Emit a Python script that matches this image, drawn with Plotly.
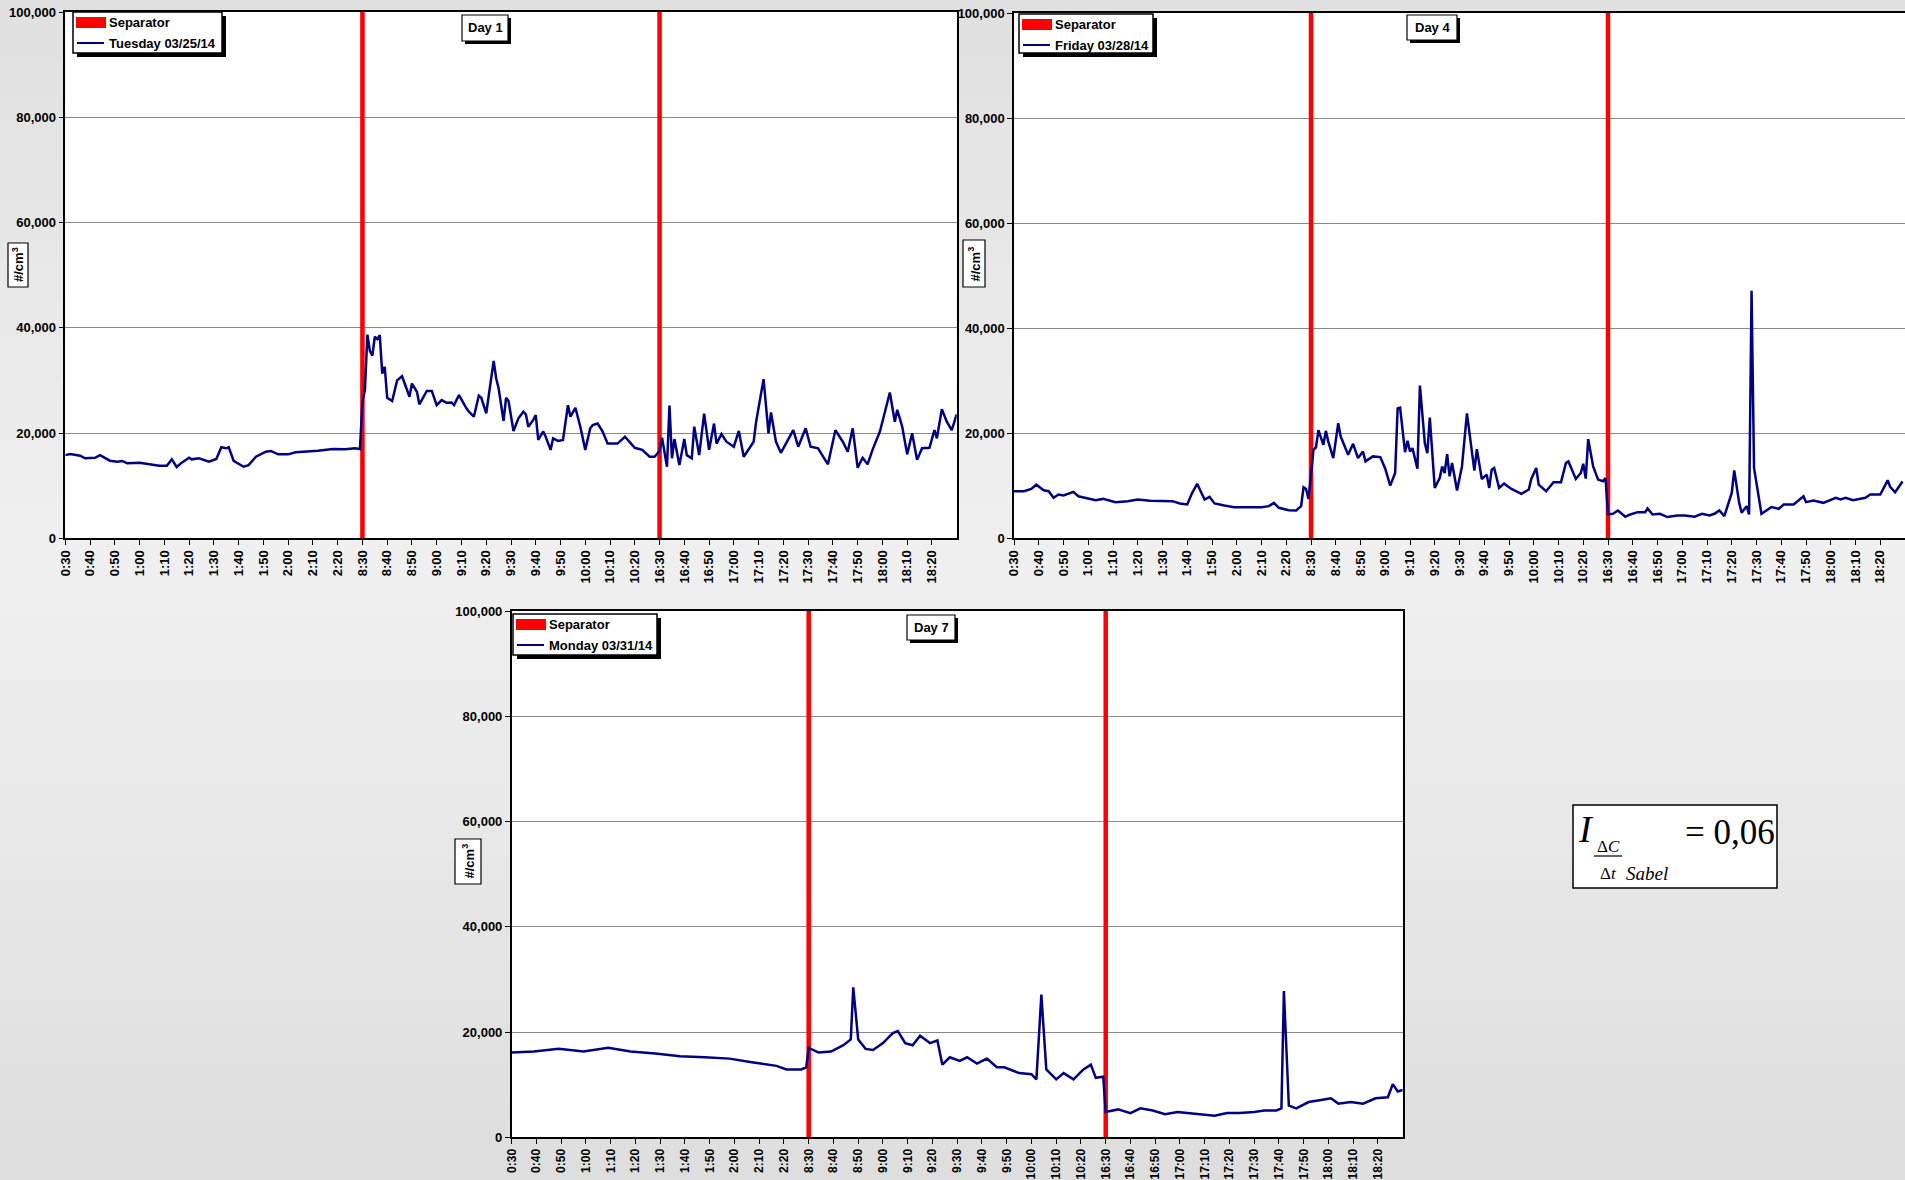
import plotly.graph_objects as go

W, H = 1905, 1180

# ---------------- data ----------------
tick_labels = ["0:30", "0:40", "0:50", "1:00", "1:10", "1:20", "1:30", "1:40", "1:50", "2:00", "2:10", "2:20",
               "8:30", "8:40", "8:50", "9:00", "9:10", "9:20", "9:30", "9:40", "9:50", "10:00", "10:10", "10:20",
               "16:30", "16:40", "16:50", "17:00", "17:10", "17:20", "17:30", "17:40", "17:50", "18:00", "18:10", "18:20"]

separator_minutes = [120, 240]
separator_top = 100000

day1_label = "Tuesday 03/25/14"
day1_minute = [0, 2, 6, 8, 12, 14, 18, 21, 23, 25,
               30, 35, 38, 41, 43, 45, 47, 50, 51, 54,
               58, 61, 63, 65, 66, 68, 72, 74, 77, 81,
               83, 86, 90, 93, 97, 102, 108, 113, 117, 119,
               120, 121, 122, 123, 124, 125, 126, 127, 128, 129,
               130, 132, 134, 136, 139, 140, 142, 143, 146, 148,
               150, 152, 154, 156, 157, 159, 162, 163, 165, 167,
               168, 170, 173, 174, 175, 177, 178, 179, 181, 183,
               185, 186, 187, 189, 190, 191, 193, 194, 196, 197,
               199, 201, 203, 204, 206, 208, 210, 212, 213, 215,
               217, 219, 221, 223, 226, 228, 230, 233, 236, 238,
               240, 241, 243, 244, 245, 246, 248, 250, 251, 253,
               254, 256, 258, 260, 262, 263, 265, 267, 270, 272,
               274, 278, 279, 282, 284, 285, 287, 289, 292, 294,
               296, 299, 301, 304, 308, 311, 314, 316, 318, 320,
               322, 324, 326, 329, 333, 335, 336, 338, 340, 342,
               344, 346, 349, 351, 352, 354, 356, 358, 360]
day1_value = [15800, 16000, 15700, 15200, 15300, 15800, 14750, 14550, 14700, 14250,
              14370, 14050, 13800, 13800, 15000, 13550, 14370, 15300, 15000, 15200,
              14550, 15070, 17300, 17100, 17300, 14700, 13600, 13900, 15500, 16450,
              16600, 15950, 15950, 16330, 16450, 16650, 16950, 16900, 17100, 16950,
              25950, 28200, 38700, 35600, 34700, 38300, 37850, 38600, 31300, 32600,
              26700, 26100, 30000, 30800, 26900, 29400, 27850, 25450, 28000, 28000,
              25300, 26250, 25750, 25800, 25300, 27200, 24700, 24050, 23100, 27100,
              26700, 23750, 33700, 30400, 28500, 22300, 26700, 26100, 20400, 22800,
              24050, 23550, 21200, 22500, 23400, 18700, 20300, 19300, 16800, 19000,
              18500, 18700, 25300, 23100, 24800, 21200, 16800, 20900, 21500, 21800,
              20300, 18000, 18000, 18000, 19300, 18200, 17200, 16800, 15500, 15500,
              16600, 19100, 13600, 25200, 15200, 18850, 13900, 18850, 15800, 15200,
              21200, 15800, 23700, 16800, 21800, 18000, 19800, 18350, 17400, 20400,
              15500, 18350, 22150, 30250, 19950, 23900, 18350, 16250, 18700, 20550,
              17400, 20900, 17400, 17100, 14050, 20550, 18350, 16450, 20900, 13400,
              15300, 14050, 16800, 20300, 27700, 22150, 24400, 21200, 15950, 19950,
              14900, 17100, 17200, 20550, 19000, 24550, 22150, 20550, 23550]

day4_label = "Friday 03/28/14"
day4_minute = [0, 4, 7, 9, 12, 14, 16, 18, 20, 24,
               26, 30, 33, 36, 41, 46, 50, 55, 59, 64,
               67, 70, 72, 74, 75, 77, 79, 81, 85, 89,
               95, 100, 103, 105, 107, 111, 114, 116, 117, 118,
               119, 121, 122, 123, 125, 126, 127, 129, 131, 132,
               135, 137, 139, 141, 142, 145, 148, 150, 152, 154,
               155, 156, 158, 159, 160, 161, 163, 164, 166, 167,
               168, 170, 172, 173, 174, 175, 176, 177, 179, 181,
               183, 186, 187, 189, 191, 192, 193, 194, 196, 198,
               201, 205, 208, 209, 211, 212, 215, 218, 221, 223,
               224, 226, 227, 229, 230, 231, 232, 234, 236, 238,
               239, 240, 242, 244, 247, 249, 252, 255, 256, 258,
               261, 264, 268, 271, 275, 278, 281, 283, 285, 287,
               290, 291, 293, 294, 296, 297, 298, 299, 300, 302,
               304, 306, 309, 311, 315, 319, 320, 323, 327, 330,
               332, 334, 336, 339, 342, 344, 346, 350, 353, 354,
               356, 358, 359]
day4_value = [8960, 8960, 9400, 10200, 9150, 8960, 7700, 8330, 8140, 8830,
              8000, 7570, 7260, 7500, 6880, 7070, 7380, 7130, 7070, 7070,
              6630, 6440, 8650, 10350, 9400, 7380, 7890, 6630, 6250, 5930,
              5930, 5930, 6120, 6750, 5800, 5360, 5300, 6120, 9720, 9400,
              7500, 16850, 17300, 20600, 17800, 20450, 18400, 15270, 21900, 19370,
              15900, 17980, 15270, 16530, 14640, 15590, 15460, 13250, 10030, 12430,
              24730, 24860, 16400, 18550, 16530, 17160, 13250, 29090, 18110, 16220,
              22970, 9590, 11480, 13690, 12430, 16030, 11800, 14320, 9090, 13690,
              23790, 12870, 16970, 11290, 12120, 9590, 13060, 13380, 9590, 10410,
              9400, 8460, 9280, 11290, 13380, 10220, 8960, 10660, 10660, 14320,
              14640, 12430, 11290, 12430, 14200, 11360, 18870, 13690, 11170, 10850,
              11480, 4540, 4670, 5300, 4100, 4540, 4980, 4980, 5680, 4540,
              4670, 4040, 4350, 4350, 4100, 4670, 4350, 4670, 5300, 4230,
              8640, 12940, 6750, 4860, 6120, 4540, 47140, 13380, 10540, 4670,
              5300, 5930, 5620, 6440, 6440, 8010, 6880, 7190, 6750, 7260,
              7700, 7380, 7700, 7260, 7500, 7700, 8330, 8330, 11040, 9780,
              8770, 10300, 10800]

day7_label = "Monday 03/31/14"
day7_minute = [0, 9, 19, 29, 39, 48, 58, 68, 78, 88,
               97, 107, 111, 117, 119, 120, 124, 129, 134, 137,
               138, 140, 143, 146, 150, 154, 156, 159, 162, 165,
               169, 172, 174, 177, 181, 184, 188, 192, 196, 199,
               205, 210, 212, 214, 216, 220, 223, 227, 231, 234,
               236, 239, 240, 245, 250, 254, 259, 264, 269, 274,
               279, 284, 289, 294, 300, 304, 309, 311, 312, 314,
               317, 322, 327, 331, 334, 339, 344, 349, 354, 356,
               358, 360]
day7_value = [16100, 16300, 16800, 16300, 17000, 16300, 15900, 15400, 15200, 14950,
              14260, 13570, 12900, 12900, 13300, 17000, 16100, 16300, 17500, 18600,
              28500, 18600, 16800, 16600, 17900, 19800, 20200, 17900, 17500, 19300,
              17900, 18400, 13800, 15200, 14500, 15200, 14000, 14950, 13300, 13300,
              12200, 12000, 11000, 27100, 12900, 11000, 12200, 11000, 12900, 13800,
              11300, 11500, 4800, 5300, 4600, 5500, 5100, 4400, 4800, 4600,
              4400, 4100, 4600, 4600, 4800, 5100, 5100, 5500, 27800, 6000,
              5500, 6700, 7100, 7400, 6400, 6700, 6400, 7400, 7600, 10100,
              8700, 9000]

formula_value = "0,06"


# ---------------- helpers ----------------
def px(x):
    return x / W


def py(y):
    return 1 - y / H


FONT = "Arial, 'Liberation Sans', sans-serif"
SERIF = "'Times New Roman', 'Liberation Serif', serif"
NAVY = "#000080"
RED = "#ff0000"
TICK_PX = 24.78  # pixels per 10-minute category step in the reference

panels = [
    dict(label=day1_label, day="Day 1", xs=day1_minute, ys=day1_value, ax="", box=(65.3, 12, 956.7, 538.3),
         legend=(73, 12, 222, 53), daybox=(462, 15, 508, 41), ytitle=(8, 243, 28, 287), xfont=13),
    dict(label=day4_label, day="Day 4", xs=day4_minute, ys=day4_value, ax="2", box=(1014, 13, 1905, 538.3),
         legend=(1019, 14, 1153, 53), daybox=(1407, 15, 1457, 40), ytitle=(963, 240, 985, 287), xfont=13),
    dict(label=day7_label, day="Day 7", xs=day7_minute, ys=day7_value, ax="3", box=(511.7, 611, 1402.7, 1137.3),
         legend=(513, 614, 657, 655), daybox=(907, 615, 955, 640), ytitle=(455, 839, 481, 884), xfont=12),
]

fig = go.Figure()
shapes = []
annotations = []

# background gradient bands
band = 20
for y0 in range(0, H, band):
    c = int(round(240 - 0.029 * abs(y0 + band / 2 - 560)))
    col = f"rgb({c},{c},{c})"
    shapes.append(dict(type="rect", xref="paper", yref="paper", x0=0, x1=1,
                       y0=max(py(y0 + band), 0), y1=min(py(y0), 1),
                       fillcolor=col, line=dict(width=0), layer="below"))

for p in panels:
    x0, y0, x1, y1 = p["box"]
    ax = p["ax"]
    xa = "x" + ax
    ya = "y" + ax
    right = min(x1, W)
    xmax = (right - x0) / TICK_PX * 10
    if abs(xmax - 360) < 1.5:
        xmax = 360
    # white plot area
    shapes.append(dict(type="rect", xref="paper", yref="paper", x0=px(x0), x1=px(right), y0=py(y1), y1=py(y0),
                       fillcolor="white", line=dict(width=0), layer="below"))

    sep_x, sep_y = [], []
    for m in separator_minutes:
        sep_x += [m, m, None]
        sep_y += [0, separator_top, None]
    fig.add_trace(go.Scatter(x=sep_x, y=sep_y, mode="lines", name="Separator",
                             line=dict(color=RED, width=4.5), xaxis=xa, yaxis=ya, showlegend=False,
                             hoverinfo="skip"))
    fig.add_trace(go.Scatter(x=p["xs"], y=p["ys"], mode="lines", name=p["label"],
                             line=dict(color=NAVY, width=2.5), xaxis=xa, yaxis=ya, showlegend=False))

    xkey = "xaxis" + ax
    ykey = "yaxis" + ax
    tickvals = [10 * i for i in range(len(tick_labels))]
    fig.update_layout(**{
        xkey: dict(domain=[px(x0), px(right)], range=[0, xmax], anchor=ya, automargin=False,
                   tickvals=tickvals, ticktext=tick_labels, tickangle=-90,
                   ticks="outside", ticklen=5, tickwidth=1, tickcolor="black",
                   showline=True, linecolor="black", linewidth=1.5, mirror=True,
                   showgrid=False, zeroline=False,
                   tickfont=dict(family=FONT, size=p["xfont"], color="black", weight="bold")),
        ykey: dict(domain=[py(y1), py(y0)], range=[0, 100000], anchor=xa, automargin=False,
                   dtick=20000, tick0=0, tickformat=",d",
                   ticks="outside", ticklen=5, tickwidth=1, tickcolor="black",
                   showline=True, linecolor="black", linewidth=1.5, mirror=True,
                   showgrid=True, gridcolor="#8a8a8a", gridwidth=1, zeroline=False,
                   tickfont=dict(family=FONT, size=13, color="black", weight="bold")),
    })

    # legend (drawn box with shadow)
    lx0, ly0, lx1, ly1 = p["legend"]
    shapes.append(dict(type="rect", xref="paper", yref="paper", x0=px(lx0 + 4), x1=px(lx1 + 4),
                       y0=py(ly1 + 4), y1=py(ly0 + 4), fillcolor="black", line=dict(width=0)))
    shapes.append(dict(type="rect", xref="paper", yref="paper", x0=px(lx0), x1=px(lx1),
                       y0=py(ly1), y1=py(ly0), fillcolor="white", line=dict(color="black", width=1.5)))
    row1 = ly0 + 10.5
    row2 = ly0 + 31
    shapes.append(dict(type="rect", xref="paper", yref="paper", x0=px(lx0 + 3), x1=px(lx0 + 33),
                       y0=py(row1 + 5.5), y1=py(row1 - 5.5), fillcolor=RED, line=dict(width=0)))
    shapes.append(dict(type="line", xref="paper", yref="paper", x0=px(lx0 + 4), x1=px(lx0 + 31),
                       y0=py(row2), y1=py(row2), line=dict(color=NAVY, width=2)))
    annotations.append(dict(xref="paper", yref="paper", x=px(lx0 + 34), y=py(row1), text="Separator",
                            showarrow=False, xanchor="left", yanchor="middle",
                            font=dict(family=FONT, size=13, color="black", weight="bold")))
    annotations.append(dict(xref="paper", yref="paper", x=px(lx0 + 34), y=py(row2), text=p["label"],
                            showarrow=False, xanchor="left", yanchor="middle",
                            font=dict(family=FONT, size=13, color="black", weight="bold")))

    # day box with shadow
    dx0, dy0, dx1, dy1 = p["daybox"]
    shapes.append(dict(type="rect", xref="paper", yref="paper", x0=px(dx0 + 3), x1=px(dx1 + 3),
                       y0=py(dy1 + 3), y1=py(dy0 + 3), fillcolor="black", line=dict(width=0)))
    shapes.append(dict(type="rect", xref="paper", yref="paper", x0=px(dx0), x1=px(dx1),
                       y0=py(dy1), y1=py(dy0), fillcolor="white", line=dict(color="black", width=1.2)))
    annotations.append(dict(xref="paper", yref="paper", x=px((dx0 + dx1) / 2), y=py((dy0 + dy1) / 2),
                            text=p["day"], showarrow=False, xanchor="center", yanchor="middle",
                            font=dict(family=FONT, size=13, color="black", weight="bold")))

    # y-axis title box
    tx0, ty0, tx1, ty1 = p["ytitle"]
    shapes.append(dict(type="rect", xref="paper", yref="paper", x0=px(tx0), x1=px(tx1),
                       y0=py(ty1), y1=py(ty0), fillcolor="white", line=dict(color="black", width=1.2)))
    annotations.append(dict(xref="paper", yref="paper", x=px((tx0 + tx1) / 2), y=py((ty0 + ty1) / 2),
                            text="#/cm<sup>3</sup>", textangle=-90, showarrow=False,
                            xanchor="center", yanchor="middle",
                            font=dict(family=FONT, size=13, color="black", weight="bold")))

# formula box
shapes.append(dict(type="rect", xref="paper", yref="paper", x0=px(1573), x1=px(1777), y0=py(888), y1=py(805),
                   fillcolor="white", line=dict(color="black", width=1.5)))
shapes.append(dict(type="line", xref="paper", yref="paper", x0=px(1594), x1=px(1622), y0=py(856), y1=py(856),
                   line=dict(color="black", width=1.2)))
annotations += [
    dict(xref="paper", yref="paper", x=px(1586), y=py(829), text="<i>I</i>", showarrow=False,
         xanchor="center", yanchor="middle", font=dict(family=SERIF, size=38, color="black")),
    dict(xref="paper", yref="paper", x=px(1608), y=py(846), text="Δ<i>C</i>", showarrow=False,
         xanchor="center", yanchor="middle", font=dict(family=SERIF, size=17, color="black")),
    dict(xref="paper", yref="paper", x=px(1608), y=py(873), text="Δ<i>t</i>", showarrow=False,
         xanchor="center", yanchor="middle", font=dict(family=SERIF, size=17, color="black")),
    dict(xref="paper", yref="paper", x=px(1624), y=py(873), text="<i>Sabel</i>", showarrow=False,
         xanchor="left", yanchor="middle", font=dict(family=SERIF, size=19, color="black")),
    dict(xref="paper", yref="paper", x=px(1683), y=py(832), text="= " + formula_value, showarrow=False,
         xanchor="left", yanchor="middle", font=dict(family=SERIF, size=35, color="black")),
]

fig.update_layout(width=W, height=H, margin=dict(l=0, r=0, t=0, b=0, pad=0, autoexpand=False),
                  paper_bgcolor="rgb(232,232,232)", plot_bgcolor="rgba(0,0,0,0)",
                  shapes=shapes, annotations=annotations, showlegend=False,
                  font=dict(family=FONT, color="black"))

# Remove the default page margin synchronously so the 1905x1180 figure fills the window exactly.
page_css = ("}); document.body.style.margin='0'; document.body.style.padding='0';"
            " document.documentElement.style.overflow='hidden'; (function(){")
fig.write_html("out.html", config={"displayModeBar": False}, post_script=page_css)
